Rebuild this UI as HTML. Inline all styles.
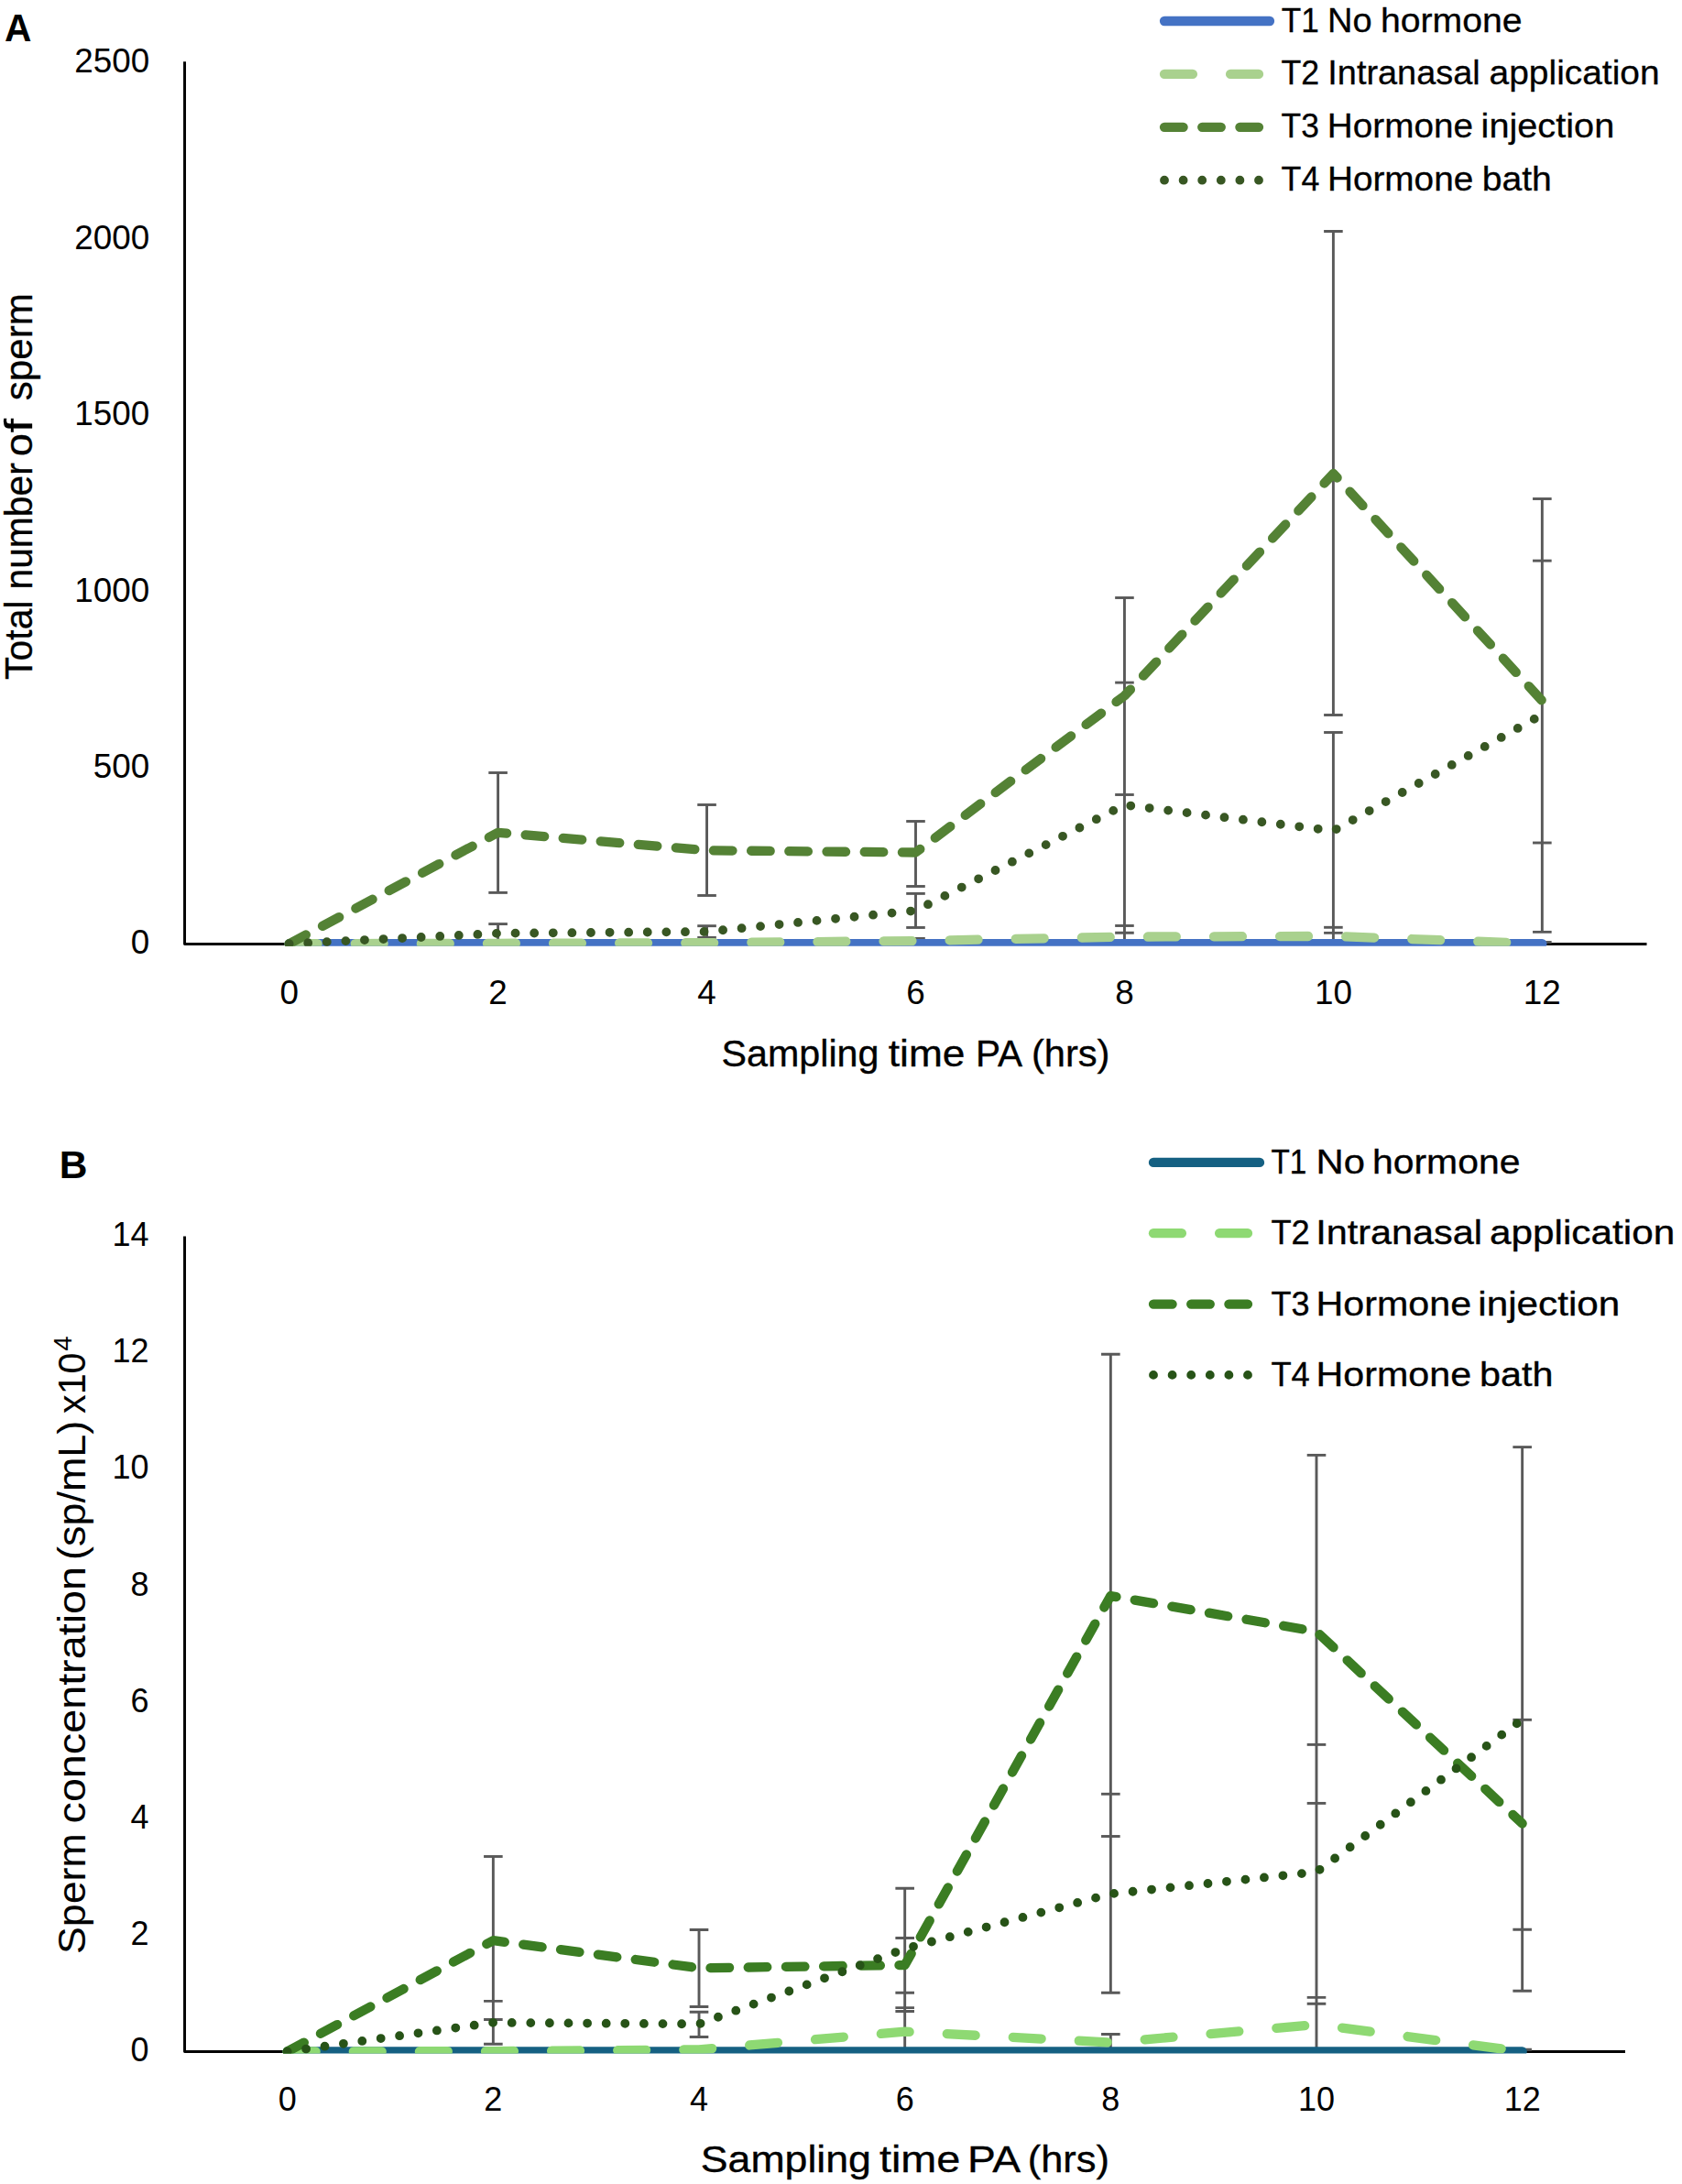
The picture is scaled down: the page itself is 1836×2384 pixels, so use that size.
<!DOCTYPE html>
<html lang="en">
<head>
<meta charset="utf-8">
<title>Sperm count and concentration by sampling time</title>
<style>
html,body{margin:0;padding:0;background:#fff;}
body{width:1836px;height:2384px;overflow:hidden;}
svg{display:block;font-family:"Liberation Sans", sans-serif;fill:#000;}
svg text{white-space:pre;}
</style>
</head>
<body>
<svg width="1836" height="2384" viewBox="0 0 1836 2384">
<rect width="1836" height="2384" fill="#fff"/>
<clipPath id="clipA"><rect x="201.55" y="27.3" width="1635.95" height="1005.5"/></clipPath>
<polyline points="201.55,67.3 201.55,1030.45 1797.5,1030.45" fill="none" stroke="#000" stroke-width="2.95" stroke-linejoin="round"/>
<g clip-path="url(#clipA)"><g stroke="#595959" stroke-width="2.9" fill="none"><line x1="543.6" y1="843.5" x2="543.6" y2="974.4"/><line x1="543.6" y1="1008.6" x2="543.6" y2="1030"/><line x1="533.3" y1="843.5" x2="553.9" y2="843.5"/><line x1="533.3" y1="974.4" x2="553.9" y2="974.4"/><line x1="533.3" y1="1008.6" x2="553.9" y2="1008.6"/><line x1="771.55" y1="878.5" x2="771.55" y2="977.5"/><line x1="771.55" y1="1010.7" x2="771.55" y2="1023.4"/><line x1="761.25" y1="878.5" x2="781.85" y2="878.5"/><line x1="761.25" y1="977.5" x2="781.85" y2="977.5"/><line x1="761.25" y1="1010.7" x2="781.85" y2="1010.7"/><line x1="761.25" y1="1023.4" x2="781.85" y2="1023.4"/><line x1="999.5" y1="896.5" x2="999.5" y2="967.5"/><line x1="999.5" y1="975.4" x2="999.5" y2="1012.5"/><line x1="999.5" y1="1024.5" x2="999.5" y2="1030"/><line x1="989.2" y1="896.5" x2="1009.8" y2="896.5"/><line x1="989.2" y1="967.5" x2="1009.8" y2="967.5"/><line x1="989.2" y1="975.4" x2="1009.8" y2="975.4"/><line x1="989.2" y1="1012.5" x2="1009.8" y2="1012.5"/><line x1="989.2" y1="1024.5" x2="1009.8" y2="1024.5"/><line x1="1227.45" y1="652.5" x2="1227.45" y2="1030"/><line x1="1217.15" y1="652.5" x2="1237.75" y2="652.5"/><line x1="1217.15" y1="745.1" x2="1237.75" y2="745.1"/><line x1="1217.15" y1="867.5" x2="1237.75" y2="867.5"/><line x1="1217.15" y1="1010.5" x2="1237.75" y2="1010.5"/><line x1="1217.15" y1="1018.2" x2="1237.75" y2="1018.2"/><line x1="1455.4" y1="252.5" x2="1455.4" y2="780.5"/><line x1="1455.4" y1="799.5" x2="1455.4" y2="1030"/><line x1="1445.1" y1="252.5" x2="1465.7" y2="252.5"/><line x1="1445.1" y1="780.5" x2="1465.7" y2="780.5"/><line x1="1445.1" y1="799.5" x2="1465.7" y2="799.5"/><line x1="1445.1" y1="1012.3" x2="1465.7" y2="1012.3"/><line x1="1445.1" y1="1018.4" x2="1465.7" y2="1018.4"/><line x1="1683.35" y1="544.5" x2="1683.35" y2="1017.4"/><line x1="1673.05" y1="544.5" x2="1693.65" y2="544.5"/><line x1="1673.05" y1="612.1" x2="1693.65" y2="612.1"/><line x1="1673.05" y1="920" x2="1693.65" y2="920"/><line x1="1673.05" y1="1017.4" x2="1693.65" y2="1017.4"/><line x1="1673.05" y1="1028.4" x2="1693.65" y2="1028.4"/></g><polyline points="315.65,1030.2 543.6,1030.2 771.55,1030.2 999.5,1030.2 1227.45,1030.2 1455.4,1030.2 1683.35,1030.2" stroke="#4472C4" fill="none" stroke-width="10.3" stroke-linecap="round" stroke-linejoin="round"/><polyline points="315.65,1030.2 543.6,1029.8 771.55,1029.2 999.5,1027 1227.45,1022.6 1455.4,1021.9 1683.35,1030.2" stroke="#A9D18E" stroke-dasharray="30.9 41.2" fill="none" stroke-width="10.3" stroke-linecap="round" stroke-linejoin="round"/><polyline points="315.65,1030.2 543.6,908.8 771.55,928.3 999.5,930.5 1227.45,759.5 1455.4,517 1683.35,765" stroke="#548235" stroke-dasharray="20.6 20.6" fill="none" stroke-width="10.3" stroke-linecap="round" stroke-linejoin="round"/><polyline points="315.65,1030.2 543.6,1018.8 771.55,1017 999.5,994 1227.45,878.7 1455.4,906.9 1683.35,780.1" stroke="#385723" stroke-dasharray="0 20.6" fill="none" stroke-width="9.8" stroke-linecap="round" stroke-linejoin="round"/></g>
<line x1="1271" y1="23" x2="1386" y2="23" stroke="#4472C4" stroke-width="10.3" stroke-linecap="round"/>
<line x1="1271" y1="80.9" x2="1386" y2="80.9" stroke="#A9D18E" stroke-width="10.3" stroke-linecap="round" stroke-dasharray="30.9 41.2"/>
<line x1="1271" y1="138.8" x2="1386" y2="138.8" stroke="#548235" stroke-width="10.3" stroke-linecap="round" stroke-dasharray="20.6 20.6"/>
<line x1="1271" y1="196.7" x2="1386" y2="196.7" stroke="#385723" stroke-width="9.8" stroke-linecap="round" stroke-dasharray="0 20.6"/>
<text y="34.7" font-size="36.6" stroke="#000" stroke-width="0.3"><tspan x="1398.73" textLength="41.06" lengthAdjust="spacingAndGlyphs">T1</tspan> <tspan x="1449.08" textLength="48.59" lengthAdjust="spacingAndGlyphs">No</tspan> <tspan x="1507" textLength="154.62" lengthAdjust="spacingAndGlyphs">hormone</tspan></text>
<text y="92.4" font-size="36.6" stroke="#000" stroke-width="0.3"><tspan x="1398.41" textLength="41.67" lengthAdjust="spacingAndGlyphs">T2</tspan> <tspan x="1449.32" textLength="166.31" lengthAdjust="spacingAndGlyphs">Intranasal</tspan> <tspan x="1625.57" textLength="186.04" lengthAdjust="spacingAndGlyphs">application</tspan></text>
<text y="150.1" font-size="36.6" stroke="#000" stroke-width="0.3"><tspan x="1398.62" textLength="41.3" lengthAdjust="spacingAndGlyphs">T3</tspan> <tspan x="1448.83" textLength="159.17" lengthAdjust="spacingAndGlyphs">Hormone</tspan> <tspan x="1616.58" textLength="145.66" lengthAdjust="spacingAndGlyphs">injection</tspan></text>
<text y="207.8" font-size="36.6" stroke="#000" stroke-width="0.3"><tspan x="1398.61" textLength="41.72" lengthAdjust="spacingAndGlyphs">T4</tspan> <tspan x="1448.92" textLength="159.38" lengthAdjust="spacingAndGlyphs">Hormone</tspan> <tspan x="1617.69" textLength="76.22" lengthAdjust="spacingAndGlyphs">bath</tspan></text>
<clipPath id="clipB"><rect x="201.55" y="1309.5" width="1612.45" height="932.1"/></clipPath>
<polyline points="201.55,1349.5 201.55,2239.5 1774,2239.5" fill="none" stroke="#000" stroke-width="2.95" stroke-linejoin="round"/>
<g clip-path="url(#clipB)"><g stroke="#595959" stroke-width="2.9" fill="none"><line x1="538.36" y1="2026.5" x2="538.36" y2="2231.2"/><line x1="528.06" y1="2026.5" x2="548.66" y2="2026.5"/><line x1="528.06" y1="2184.4" x2="548.66" y2="2184.4"/><line x1="528.06" y1="2204.5" x2="548.66" y2="2204.5"/><line x1="528.06" y1="2231.2" x2="548.66" y2="2231.2"/><line x1="763.02" y1="2106.5" x2="763.02" y2="2190.5"/><line x1="763.02" y1="2196.3" x2="763.02" y2="2223.5"/><line x1="752.72" y1="2106.5" x2="773.32" y2="2106.5"/><line x1="752.72" y1="2190.5" x2="773.32" y2="2190.5"/><line x1="752.72" y1="2196.3" x2="773.32" y2="2196.3"/><line x1="752.72" y1="2223.5" x2="773.32" y2="2223.5"/><line x1="987.68" y1="2061.3" x2="987.68" y2="2239.4"/><line x1="977.38" y1="2061.3" x2="997.98" y2="2061.3"/><line x1="977.38" y1="2115.5" x2="997.98" y2="2115.5"/><line x1="977.38" y1="2175.3" x2="997.98" y2="2175.3"/><line x1="977.38" y1="2191.6" x2="997.98" y2="2191.6"/><line x1="977.38" y1="2195.5" x2="997.98" y2="2195.5"/><line x1="1212.34" y1="1478.3" x2="1212.34" y2="2175.3"/><line x1="1212.34" y1="2220.5" x2="1212.34" y2="2239.4"/><line x1="1202.04" y1="1478.3" x2="1222.64" y2="1478.3"/><line x1="1202.04" y1="1958.3" x2="1222.64" y2="1958.3"/><line x1="1202.04" y1="2004.5" x2="1222.64" y2="2004.5"/><line x1="1202.04" y1="2175.3" x2="1222.64" y2="2175.3"/><line x1="1202.04" y1="2220.5" x2="1222.64" y2="2220.5"/><line x1="1437" y1="1588.4" x2="1437" y2="2239.4"/><line x1="1426.7" y1="1588.4" x2="1447.3" y2="1588.4"/><line x1="1426.7" y1="1904.4" x2="1447.3" y2="1904.4"/><line x1="1426.7" y1="1968.4" x2="1447.3" y2="1968.4"/><line x1="1426.7" y1="2180.4" x2="1447.3" y2="2180.4"/><line x1="1426.7" y1="2187.3" x2="1447.3" y2="2187.3"/><line x1="1661.66" y1="1579.6" x2="1661.66" y2="2173.2"/><line x1="1651.36" y1="1579.6" x2="1671.96" y2="1579.6"/><line x1="1651.36" y1="1877.3" x2="1671.96" y2="1877.3"/><line x1="1651.36" y1="2106.2" x2="1671.96" y2="2106.2"/><line x1="1651.36" y1="2173.2" x2="1671.96" y2="2173.2"/><line x1="1651.36" y1="2237.2" x2="1671.96" y2="2237.2"/></g><polyline points="313.7,2239.4 538.36,2239.4 763.02,2239.4 987.68,2239.4 1212.34,2239.4 1437,2239.4 1661.66,2239.4" stroke="#156082" fill="none" stroke-width="10.3" stroke-linecap="round" stroke-linejoin="round"/><polyline points="313.7,2239.4 538.36,2239.2 763.02,2237.3 987.68,2217.7 1212.34,2229.5 1437,2210 1661.66,2239.4" stroke="#8ED973" stroke-dasharray="30.9 41.2" fill="none" stroke-width="10.3" stroke-linecap="round" stroke-linejoin="round"/><polyline points="313.7,2239.4 538.36,2118.2 763.02,2148.3 987.68,2145 1212.34,1742 1437,1781 1661.66,1990.5" stroke="#3B7D23" stroke-dasharray="20.6 20.6" fill="none" stroke-width="10.3" stroke-linecap="round" stroke-linejoin="round"/><polyline points="313.7,2239.4 538.36,2207.8 763.02,2209.4 987.68,2127.3 1212.34,2067.3 1437,2043.4 1661.66,1877" stroke="#275317" stroke-dasharray="0 20.6" fill="none" stroke-width="9.8" stroke-linecap="round" stroke-linejoin="round"/></g>
<line x1="1259" y1="1268.9" x2="1375" y2="1268.9" stroke="#156082" stroke-width="10.3" stroke-linecap="round"/>
<line x1="1259" y1="1346.2" x2="1375" y2="1346.2" stroke="#8ED973" stroke-width="10.3" stroke-linecap="round" stroke-dasharray="30.9 41.2"/>
<line x1="1259" y1="1423.6" x2="1375" y2="1423.6" stroke="#3B7D23" stroke-width="10.3" stroke-linecap="round" stroke-dasharray="20.6 20.6"/>
<line x1="1259" y1="1500.9" x2="1375" y2="1500.9" stroke="#275317" stroke-width="9.8" stroke-linecap="round" stroke-dasharray="0 20.6"/>
<text y="1281" font-size="37.5" stroke="#000" stroke-width="0.35"><tspan x="1387.47" textLength="38.83" lengthAdjust="spacingAndGlyphs">T1</tspan> <tspan x="1436.58" textLength="53.35" lengthAdjust="spacingAndGlyphs">No</tspan> <tspan x="1497.98" textLength="161.52" lengthAdjust="spacingAndGlyphs">hormone</tspan></text>
<text y="1358.3" font-size="37.5" stroke="#000" stroke-width="0.35"><tspan x="1387.4" textLength="42.31" lengthAdjust="spacingAndGlyphs">T2</tspan> <tspan x="1436.19" textLength="181.66" lengthAdjust="spacingAndGlyphs">Intranasal</tspan> <tspan x="1625.92" textLength="202.3" lengthAdjust="spacingAndGlyphs">application</tspan></text>
<text y="1435.6" font-size="37.5" stroke="#000" stroke-width="0.35"><tspan x="1387.41" textLength="42.04" lengthAdjust="spacingAndGlyphs">T3</tspan> <tspan x="1436.62" textLength="169.49" lengthAdjust="spacingAndGlyphs">Hormone</tspan> <tspan x="1613.31" textLength="155.09" lengthAdjust="spacingAndGlyphs">injection</tspan></text>
<text y="1512.9" font-size="37.5" stroke="#000" stroke-width="0.35"><tspan x="1387.4" textLength="42.35" lengthAdjust="spacingAndGlyphs">T4</tspan> <tspan x="1436.62" textLength="169.49" lengthAdjust="spacingAndGlyphs">Hormone</tspan> <tspan x="1615.06" textLength="80.4" lengthAdjust="spacingAndGlyphs">bath</tspan></text>
<text x="4.9" y="44.9" font-size="42.5" font-weight="bold" textLength="29.4" lengthAdjust="spacingAndGlyphs">A</text>
<text x="64.8" y="1285.9" font-size="42.5" font-weight="bold">B</text>
<text x="163.3" y="1041.3" font-size="36.2" text-anchor="end" textLength="20.5" lengthAdjust="spacingAndGlyphs">0</text>
<text x="163.3" y="848.9" font-size="36.2" text-anchor="end" textLength="61.5" lengthAdjust="spacingAndGlyphs">500</text>
<text x="163.3" y="656.5" font-size="36.2" text-anchor="end" textLength="82" lengthAdjust="spacingAndGlyphs">1000</text>
<text x="163.3" y="464.1" font-size="36.2" text-anchor="end" textLength="82" lengthAdjust="spacingAndGlyphs">1500</text>
<text x="163.3" y="271.7" font-size="36.2" text-anchor="end" textLength="82" lengthAdjust="spacingAndGlyphs">2000</text>
<text x="163.3" y="79.3" font-size="36.2" text-anchor="end" textLength="82" lengthAdjust="spacingAndGlyphs">2500</text>
<text x="315.65" y="1095.6" font-size="36.2" text-anchor="middle" textLength="20.5" lengthAdjust="spacingAndGlyphs">0</text>
<text x="543.6" y="1095.6" font-size="36.2" text-anchor="middle" textLength="20.5" lengthAdjust="spacingAndGlyphs">2</text>
<text x="771.55" y="1095.6" font-size="36.2" text-anchor="middle" textLength="20.5" lengthAdjust="spacingAndGlyphs">4</text>
<text x="999.5" y="1095.6" font-size="36.2" text-anchor="middle" textLength="20.5" lengthAdjust="spacingAndGlyphs">6</text>
<text x="1227.45" y="1095.6" font-size="36.2" text-anchor="middle" textLength="20.5" lengthAdjust="spacingAndGlyphs">8</text>
<text x="1455.4" y="1095.6" font-size="36.2" text-anchor="middle" textLength="41" lengthAdjust="spacingAndGlyphs">10</text>
<text x="1683.35" y="1095.6" font-size="36.2" text-anchor="middle" textLength="41" lengthAdjust="spacingAndGlyphs">12</text>
<text y="1164.3" font-size="40.4" stroke="#000" stroke-width="0.35"><tspan x="787.54" textLength="171.89" lengthAdjust="spacingAndGlyphs">Sampling</tspan> <tspan x="969.84" textLength="83.62" lengthAdjust="spacingAndGlyphs">time</tspan> <tspan x="1065.02" textLength="48.85" lengthAdjust="spacingAndGlyphs">PA</tspan> <tspan x="1125.92" textLength="85.57" lengthAdjust="spacingAndGlyphs">(hrs)</tspan></text>
<text transform="translate(35 741) rotate(-90)" font-size="42.6" stroke="#000" stroke-width="0.3"><tspan x="-0.9" textLength="86.52" lengthAdjust="spacingAndGlyphs">Total</tspan> <tspan x="97.51" textLength="138.23" lengthAdjust="spacingAndGlyphs">number</tspan> <tspan x="242.7" textLength="25.16" lengthAdjust="spacingAndGlyphs">o</tspan><tspan x="268.83" textLength="15.25" lengthAdjust="spacingAndGlyphs">f</tspan> <tspan x="303.76" textLength="117.09" lengthAdjust="spacingAndGlyphs">sperm</tspan></text>
<text x="162.6" y="2250.4" font-size="36" text-anchor="end">0</text>
<text x="162.6" y="2123.2" font-size="36" text-anchor="end">2</text>
<text x="162.6" y="1996" font-size="36" text-anchor="end">4</text>
<text x="162.6" y="1868.8" font-size="36" text-anchor="end">6</text>
<text x="162.6" y="1741.6" font-size="36" text-anchor="end">8</text>
<text x="162.6" y="1614.4" font-size="36" text-anchor="end">10</text>
<text x="162.6" y="1487.2" font-size="36" text-anchor="end">12</text>
<text x="162.6" y="1360" font-size="36" text-anchor="end">14</text>
<text x="313.7" y="2303.5" font-size="36" text-anchor="middle">0</text>
<text x="538.36" y="2303.5" font-size="36" text-anchor="middle">2</text>
<text x="763.02" y="2303.5" font-size="36" text-anchor="middle">4</text>
<text x="987.68" y="2303.5" font-size="36" text-anchor="middle">6</text>
<text x="1212.34" y="2303.5" font-size="36" text-anchor="middle">8</text>
<text x="1437" y="2303.5" font-size="36" text-anchor="middle">10</text>
<text x="1661.66" y="2303.5" font-size="36" text-anchor="middle">12</text>
<text y="2371.3" font-size="40.2" stroke="#000" stroke-width="0.35"><tspan x="764.79" textLength="186.17" lengthAdjust="spacingAndGlyphs">Sampling</tspan> <tspan x="959.9" textLength="88.37" lengthAdjust="spacingAndGlyphs">time</tspan> <tspan x="1055.97" textLength="55.7" lengthAdjust="spacingAndGlyphs">PA</tspan> <tspan x="1121.71" textLength="89.19" lengthAdjust="spacingAndGlyphs">(hrs)</tspan></text>
<text transform="translate(93 2131.1) rotate(-90)" font-size="42.9"><tspan x="-2.01" textLength="131.84" lengthAdjust="spacingAndGlyphs">Sperm</tspan> <tspan x="140.64" textLength="280.45" lengthAdjust="spacingAndGlyphs">concentration</tspan> <tspan x="428.22" textLength="152.18" lengthAdjust="spacingAndGlyphs">(sp/mL)</tspan> <tspan x="588.15" textLength="66.53" lengthAdjust="spacingAndGlyphs">x10</tspan><tspan x="656.26" dy="-15.3" font-size="27.5" textLength="16.3" lengthAdjust="spacingAndGlyphs">4</tspan></text>
</svg>
</body>
</html>
